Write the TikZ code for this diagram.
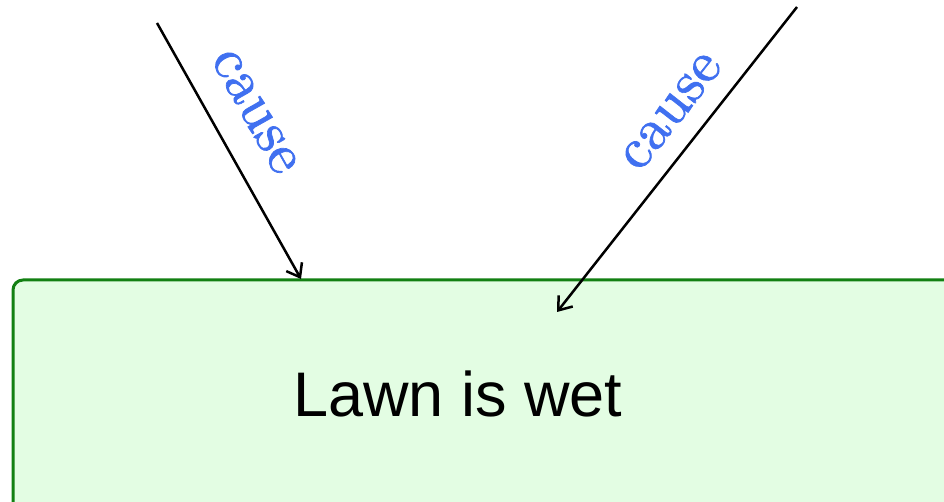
\documentclass[tikz,border=0pt]{standalone}
\usepackage{fontspec}
\newfontfamily\lawnfont{Liberation Sans}
\newfontfamily\causefont{lmroman10-regular.otf}[FakeBold=1.2]
\usetikzlibrary{arrows.meta}
\definecolor{lawngreen}{RGB}{18,128,18}
\definecolor{lawnfill}{RGB}{227,253,227}
\definecolor{causeblue}{RGB}{64,112,240}
\begin{document}
\begin{tikzpicture}[x=1pt, y=1pt,
    causelabel/.style={text=causeblue, font=\causefont\fontsize{58}{70}\selectfont, sloped, inner sep=0pt},
    causearrow/.style={line width=2.5pt, -{Straight Barb[length=12pt, width=18pt, line width=2.5pt]}}]
  \useasboundingbox (0,0) rectangle (944,502);
  \begin{scope}
    \clip (0,0) rectangle (944,502);
    \draw[lawngreen, fill=lawnfill, line width=3pt, rounded corners=10pt] (13,-40) rectangle (990,222);
  \end{scope}
  \node[anchor=base, font=\lawnfont\fontsize{63}{75}\selectfont] (lawn) at (458,85) {Lawn is wet};
  \coordinate (rainfrom) at (157,479);
  \coordinate (rainto) at (301,223);
  \coordinate (sprinklerfrom) at (797,495);
  \coordinate (sprinklerto) at (557,190);
  \draw[causearrow] (rainfrom) -- (rainto)
    node[causelabel, pos=0.427, above=27pt] (raincause) {cause};
  \draw[causearrow] (sprinklerfrom) -- (sprinklerto)
    node[causelabel, pos=0.412, above=19pt] (sprinklercause) {cause};
\end{tikzpicture}
\end{document}
